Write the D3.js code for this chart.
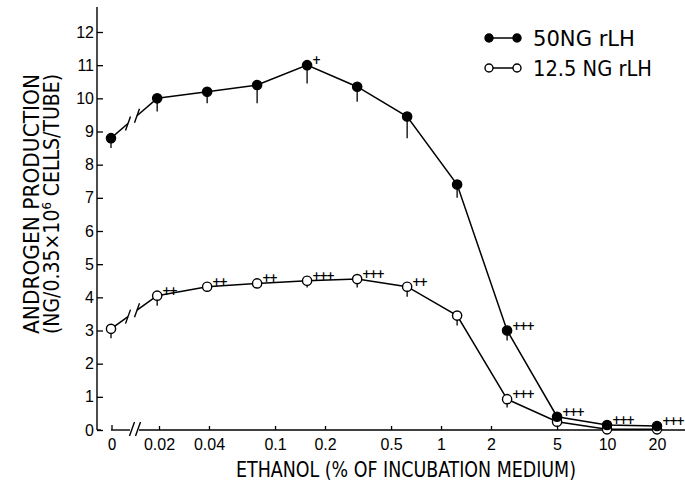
<!DOCTYPE html>
<html>
<head>
<meta charset="utf-8">
<script src="https://cdn.jsdelivr.net/npm/d3@7"></script>
<style>
  body { margin: 0; background: #fff; }
  svg { display: block; font-family: "DejaVu Sans Condensed", "Liberation Sans Narrow", sans-serif; }
</style>
</head>
<body>
<svg width="685" height="497"></svg>
<script>
// ethanol concentration (% of incubation medium), 0 is the control
const conc = [0, 0.0195, 0.039, 0.078, 0.156, 0.3125, 0.625, 1.25, 2.5, 5, 10, 20];

// 50 ng rLH
const hi = [8.8, 10.0, 10.2, 10.4, 11.0, 10.35, 9.45, 7.4, 3.0, 0.4, 0.15, 0.12];
const hiErr = [0.3, 0.4, 0.35, 0.55, 0.55, 0.45, 0.65, 0.4, 0.3, 0.1, 0.05, 0.05];
const hiSig = ["", "", "", "", "+", "", "", "", "+++", "+++", "+++", "+++"];

// 12.5 ng rLH
const lo = [3.05, 4.05, 4.32, 4.42, 4.5, 4.55, 4.32, 3.45, 0.93, 0.25, 0.02, 0.02];
const loErr = [0.28, 0.3, 0.15, 0.1, 0.2, 0.25, 0.3, 0.3, 0.25, 0.1, 0, 0];
const loSig = ["", "++", "++", "++", "+++", "+++", "++", "", "+++", "", "", ""];

const xTicks = [0.02, 0.04, 0.1, 0.2, 0.5, 1, 2, 5, 10, 20];
const xTickLabels = ["0.02", "0.04", "0.1", "0.2", "0.5", "1", "2", "5", "10", "20"];
const yTicks = d3.range(0, 13);

const svg = d3.select("svg");

const x = d3.scaleLog().domain([0.02, 20]).range([159, 657]);
const zeroX = 111;
const xPos = (c) => (c === 0 ? zeroX : x(c));
const y = d3.scaleLinear().domain([0, 12]).range([430, 32]);

const axisY = 430, axisX = 97;

// y axis
svg.append("line")
  .attr("x1", axisX).attr("x2", axisX).attr("y1", 7).attr("y2", axisY)
  .attr("stroke", "#000").attr("stroke-width", 1.4);

const gy = svg.append("g")
  .attr("transform", `translate(${axisX},0)`)
  .call(d3.axisLeft(y).tickValues(yTicks).tickSize(-6).tickPadding(3).tickFormat(d3.format("d")));
gy.select(".domain").remove();
gy.selectAll(".tick line").attr("stroke-width", 1.3);
gy.selectAll(".tick text").attr("font-size", 16).attr("font-family", null);

// x axis, drawn in pieces because of the break
const axisLine = (x1, x2) => svg.append("line")
  .attr("x1", x1).attr("x2", x2).attr("y1", axisY).attr("y2", axisY)
  .attr("stroke", "#000").attr("stroke-width", 1.4);
axisLine(axisX, 101);
axisLine(zeroX, 130);
axisLine(139, 685);

const slash = (cx, cy) => svg.append("line")
  .attr("x1", cx - 2.5).attr("y1", cy + 7).attr("x2", cx + 2.5).attr("y2", cy - 7)
  .attr("stroke", "#000").attr("stroke-width", 1.4);
slash(132, axisY - 1);
slash(138, axisY - 1);

const gx = svg.append("g")
  .attr("transform", `translate(0,${axisY})`)
  .call(d3.axisBottom(x).tickValues(xTicks).tickSize(-4).tickPadding(9)
    .tickFormat((d, i) => xTickLabels[i]));
gx.select(".domain").remove();
gx.selectAll(".tick line").attr("stroke-width", 1.3);
gx.selectAll(".tick text").attr("font-size", 16).attr("font-family", null);

// zero tick
svg.append("line")
  .attr("x1", zeroX + 1).attr("x2", zeroX + 1).attr("y1", axisY).attr("y2", axisY - 5)
  .attr("stroke", "#000").attr("stroke-width", 1.3);
svg.append("text")
  .attr("x", zeroX + 1).attr("y", axisY + 9).attr("dy", "0.71em")
  .attr("text-anchor", "middle").attr("font-size", 16).text("0");

// axis titles
svg.append("text")
  .attr("x", 406).attr("y", 477)
  .attr("text-anchor", "middle").attr("font-size", 21)
  .attr("textLength", 340).attr("lengthAdjust", "spacingAndGlyphs")
  .text("ETHANOL (% OF INCUBATION MEDIUM)");

const yt = svg.append("g").attr("transform", "translate(0,204) rotate(-90)");
yt.append("text")
  .attr("x", 0).attr("y", 39).attr("text-anchor", "middle").attr("font-size", 21)
  .attr("textLength", 260).attr("lengthAdjust", "spacingAndGlyphs")
  .text("ANDROGEN  PRODUCTION");
const yt2 = yt.append("text")
  .attr("x", 0).attr("y", 59).attr("text-anchor", "middle").attr("font-size", 21);
yt2.append("tspan").text("(NG/0.35×10");
yt2.append("tspan").attr("font-size", 13).attr("dy", -8).text("6");
yt2.append("tspan").attr("dy", 8).text(" CELLS/TUBE)");

// series
function drawSeries(vals, errs, sigs, filled) {
  const g = svg.append("g");
  const pts = conc.map((c, i) => [xPos(c), y(vals[i])]);

  // first segment with a break
  const [p0, p1] = [pts[0], pts[1]];
  const at = (px) => p0[1] + (p1[1] - p0[1]) * (px - p0[0]) / (p1[0] - p0[0]);
  const gapA = 128, gapB = 137;
  g.append("line").attr("x1", p0[0]).attr("y1", p0[1]).attr("x2", gapA).attr("y2", at(gapA))
    .attr("stroke", "#000").attr("stroke-width", 1.5);
  g.append("line").attr("x1", gapB).attr("y1", at(gapB)).attr("x2", p1[0]).attr("y2", p1[1])
    .attr("stroke", "#000").attr("stroke-width", 1.5);
  [gapA, gapB].forEach((px) => {
    g.append("line")
      .attr("x1", px - 2.5).attr("y1", at(px) + 7).attr("x2", px + 2.5).attr("y2", at(px) - 7)
      .attr("stroke", "#000").attr("stroke-width", 1.4);
  });

  g.append("path")
    .attr("d", d3.line()(pts.slice(1)))
    .attr("fill", "none").attr("stroke", "#000").attr("stroke-width", 1.5);

  // error bars (downward only)
  g.selectAll("line.err").data(conc).join("line")
    .attr("class", "err")
    .attr("x1", (d) => xPos(d)).attr("x2", (d) => xPos(d))
    .attr("y1", (d, i) => y(vals[i])).attr("y2", (d, i) => y(vals[i] - errs[i]))
    .attr("stroke", "#000").attr("stroke-width", 1.3);

  g.selectAll("circle").data(conc).join("circle")
    .attr("cx", (d) => xPos(d)).attr("cy", (d, i) => y(vals[i]))
    .attr("r", 4.6)
    .attr("fill", filled ? "#000" : "#fff")
    .attr("stroke", "#000").attr("stroke-width", 1.4);

  g.selectAll("text").data(conc).join("text")
    .attr("x", (d) => Math.round(xPos(d) + 5)).attr("y", (d, i) => Math.round(y(vals[i]) - 1))
    .attr("font-size", 12).attr("font-weight", "bold")
    .attr("letter-spacing", -2)
    .text((d, i) => sigs[i]);
}

drawSeries(lo, loErr, loSig, false);
drawSeries(hi, hiErr, hiSig, true);

// legend
const legend = [
  { label: "50NG rLH", filled: true, cy: 38, w: 102 },
  { label: "12.5 NG rLH", filled: false, cy: 68, w: 119 }
];
const lg = svg.append("g");
legend.forEach((l) => {
  lg.append("line").attr("x1", 489).attr("x2", 517).attr("y1", l.cy).attr("y2", l.cy)
    .attr("stroke", "#000").attr("stroke-width", 1.5);
  [489, 517].forEach((cx) => {
    lg.append("circle").attr("cx", cx).attr("cy", l.cy).attr("r", 4)
      .attr("fill", l.filled ? "#000" : "#fff").attr("stroke", "#000").attr("stroke-width", 1.4);
  });
  lg.append("text").attr("x", 533).attr("y", l.cy + 8).attr("font-size", 22)
    .attr("textLength", l.w).attr("lengthAdjust", "spacingAndGlyphs").text(l.label);
});
</script>
</body>
</html>
